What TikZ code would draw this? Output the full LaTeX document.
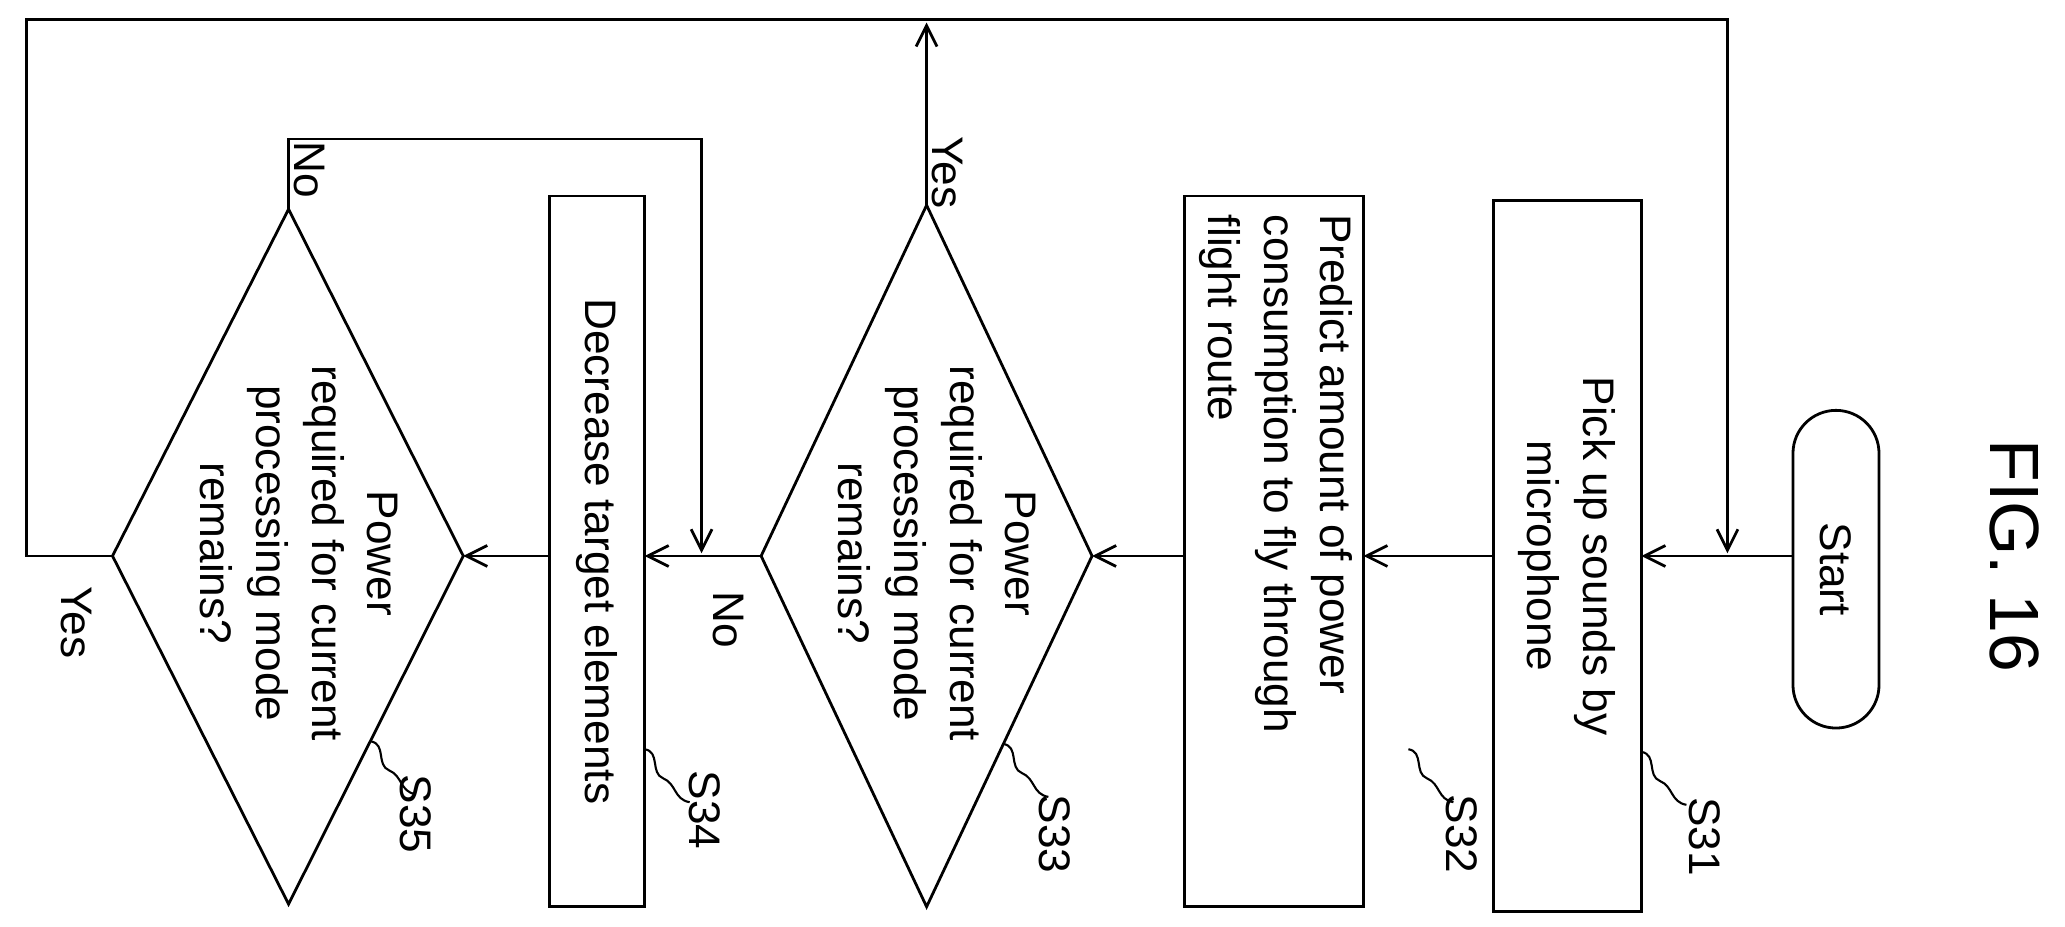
\documentclass[tikz,border=0pt]{standalone}
\usepackage{fontspec}
\setmainfont{Liberation Sans}
\usetikzlibrary{arrows.meta,shapes.misc}
\begin{document}
\begin{tikzpicture}[x=0.02cm,y=-0.02cm,
  txt/.style={font=\fontsize{19}{24}\selectfont,rotate=-90,align=center,inner sep=0},
  box/.style={draw,line width=1.2pt,rotate=-90,font=\fontsize{19}{24}\selectfont,inner sep=0},
  ln/.style={line width=1.2pt},
  arr/.style={line width=1.2pt,-{Straight Barb[length=9pt,width=9pt]}},
  lead/.style={line width=0.9pt}]
\useasboundingbox (0,0) rectangle (1560,700);
% Title
\node[txt,font=\fontsize{30}{32}\selectfont] (fig) at (1522,420) {FIG. 16};
% Start
\node[box,rounded rectangle,minimum width=240*0.02cm,minimum height=65*0.02cm] (start) at (1387,430) {Start};
\coordinate (st) at (1355,420);
% S31
\node[box,align=center,minimum width=537*0.02cm,minimum height=112*0.02cm] (s31) at (1184,420) {Pick up sounds by\\microphone};
\coordinate (s31r) at (1240,420); \coordinate (s31l) at (1128,420);
% S32
\node[box,minimum width=537*0.02cm,minimum height=135*0.02cm] (s32) at (962.5,416.5) {};
\node[txt,align=left,anchor=north west] (t32) at (1022,162) {Predict amount of power\\consumption to fly through\\flight route};
\coordinate (s32r) at (1030,420); \coordinate (s32l) at (895,420);
% S33 diamond
\coordinate (d3t) at (700,155); \coordinate (d3r) at (825,420);
\coordinate (d3b) at (700,685); \coordinate (d3l) at (575,420);
\draw[ln] (d3t)--(d3r)--(d3b)--(d3l)--cycle;
\node[txt] (t33) at (708,418) {Power\\required for current\\processing mode\\remains?};
% S34
\node[box,minimum width=537*0.02cm,minimum height=72*0.02cm] (s34) at (451,416.5) {Decrease target elements};
\coordinate (s34r) at (487,420); \coordinate (s34l) at (415,420);
% S35 diamond
\coordinate (d5t) at (218,158); \coordinate (d5r) at (350,420);
\coordinate (d5b) at (218,683); \coordinate (d5l) at (85,420);
\draw[ln] (d5t)--(d5r)--(d5b)--(d5l)--cycle;
\node[txt] (t35) at (226,418) {Power\\required for current\\processing mode\\remains?};
% main flow
\draw[arr] (st) -- (s31r);
\draw[arr] (s31l) -- (s32r);
\draw[arr] (s32l) -- (d3r);
\draw[arr] (d3l) -- (s34r);
\draw[arr] (s34l) -- (d5r);
\node[txt] (no3) at (550,468) {No};
% S33 yes
\coordinate (top3) at (700,17);
\draw[arr] (d3t) -- (top3);
\node[txt] (yes3) at (716,130) {Yes};
% S35 no
\coordinate (n1) at (218,105); \coordinate (n2) at (530,105); \coordinate (n3) at (530,418);
\draw[arr] (d5t) -- (n1) -- (n2) -- (n3);
\node[txt] (no5) at (234,128) {No};
% S35 yes loop
\coordinate (y1) at (20,420); \coordinate (y2) at (20,15); \coordinate (y3) at (1305,15); \coordinate (y4) at (1305,418);
\draw[arr] (d5l) -- (y1) -- (y2) -- (y3) -- (y4);
\node[txt] (yes5) at (58,470) {Yes};
% step labels
\foreach \n/\x/\y/\bx/\by in {31/1288/632/1240/568, 32/1104/630/1064/566, 33/797/630/758/562, 34/532/612/487/566, 35/314/615/280/560}{
  \node[txt] (l\n) at (\x,\y) {S\n};
  \draw[lead] (\bx,\by) .. controls (\bx+12,\by+2) and (\bx+4,\by+18) .. (\bx+14,\by+22) .. controls (\bx+24,\by+26) and (\bx+22,\by+38) .. (\bx+34,\by+40);
}
\end{tikzpicture}
\end{document}
